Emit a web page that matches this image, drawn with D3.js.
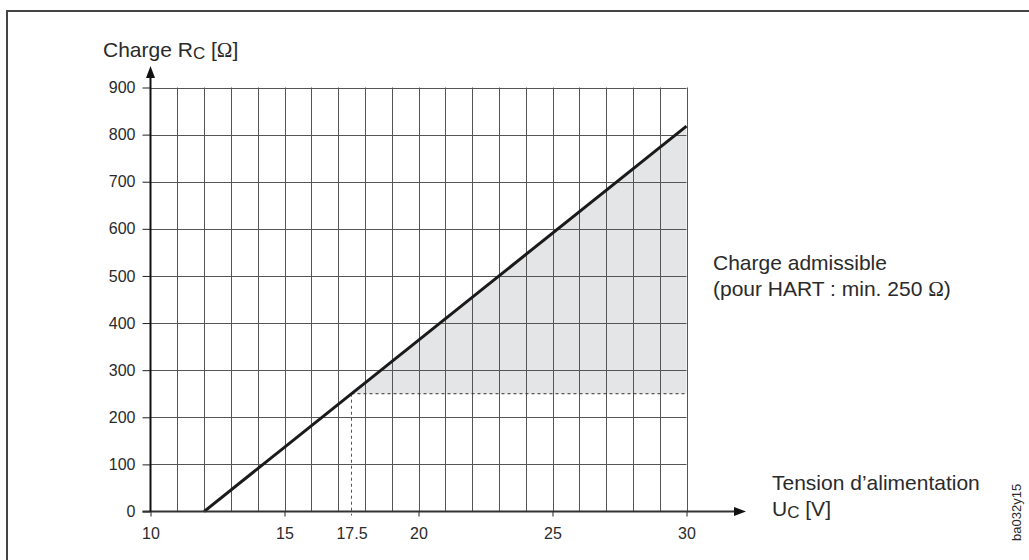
<!DOCTYPE html>
<html>
<head>
<meta charset="utf-8">
<script src="https://cdn.jsdelivr.net/npm/d3@7"></script>
<style>
  html, body { margin: 0; padding: 0; background: #fff; }
  svg { display: block; }
  text { font-family: "Liberation Sans", Arial, Helvetica, sans-serif; fill: #2a2a2a; }
  .omega { font-family: "Liberation Serif", "DejaVu Serif", serif; }
</style>
</head>
<body>
<svg id="chart" width="1029" height="560"></svg>
<script>
// ---- data ----
const xTickValues = [10, 15, 17.5, 20, 25, 30];
const xTickLabels = ["10", "15", "17.5", "20", "25", "30"];
const yTickValues = [0, 100, 200, 300, 400, 500, 600, 700, 800, 900];
const xGridValues = [10, 11, 12, 13, 14, 15, 16, 17, 18, 19, 20, 21, 22, 23, 24, 25, 26, 27, 28, 29, 30];
const loadLineU = [12, 30];        // supply voltage (V)
const loadLineR = [0, 818];        // max load (Ohm)
const hartMinLoad = 250;           // Ohm
const hartMinVoltage = 17.5;       // V
const areaU = [17.5, 30, 30];
const areaR = [250, 818, 250];

// ---- layout ----
const svg = d3.select("#chart");
const x = d3.scaleLinear().domain([10, 30]).range([150.5, 686.5]);
const y = d3.scaleLinear().domain([0, 900]).range([511.5, 87.5]);

// frame
svg.append("rect").attr("x", 7).attr("y", 11).attr("width", 1040).attr("height", 570)
  .attr("fill", "none").attr("stroke", "#444").attr("stroke-width", 2);

// shaded admissible area
svg.append("path")
  .datum(areaU.map((u, i) => [u, areaR[i]]))
  .attr("d", d3.line().x(d => x(d[0])).y(d => y(d[1])).curve(d3.curveLinearClosed))
  .attr("fill", "#e4e5e7");

// grid
const grid = svg.append("g").attr("stroke", "#555").attr("stroke-width", 1);
grid.selectAll("line.v").data(xGridValues.slice(1)).join("line")
  .attr("x1", d => Math.round(x(d)) + 0.5).attr("x2", d => Math.round(x(d)) + 0.5)
  .attr("y1", y(0)).attr("y2", y(900));
grid.selectAll("line.h").data(yTickValues.slice(1)).join("line")
  .attr("x1", x(10)).attr("x2", x(30))
  .attr("y1", d => Math.round(y(d)) + 0.5).attr("y2", d => Math.round(y(d)) + 0.5);

// dashed HART limits
svg.append("line")
  .attr("x1", x(hartMinVoltage)).attr("x2", x(30))
  .attr("y1", y(hartMinLoad)).attr("y2", y(hartMinLoad))
  .attr("stroke", "#333").attr("stroke-width", 1).attr("stroke-dasharray", "3,3");
svg.append("line")
  .attr("x1", x(hartMinVoltage)).attr("x2", x(hartMinVoltage))
  .attr("y1", y(hartMinLoad)).attr("y2", y(0) + 4)
  .attr("stroke", "#555").attr("stroke-width", 1).attr("stroke-dasharray", "3,3");

// load line
svg.append("path")
  .datum(loadLineU.map((u, i) => [u, loadLineR[i]]))
  .attr("d", d3.line().x(d => x(d[0])).y(d => y(d[1])))
  .attr("fill", "none").attr("stroke", "#1a1a1a").attr("stroke-width", 3);

// axes
const xAxis = d3.axisBottom(x)
  .tickValues(xTickValues)
  .tickFormat((d, i) => xTickLabels[i])
  .tickSize(5).tickPadding(11);
const gx = svg.append("g").attr("transform", `translate(0,${y(0)})`).call(xAxis);
gx.select(".domain").remove();
gx.selectAll(".tick line").attr("stroke", "#222").attr("stroke-width", 1)
  .filter(d => d === 17.5).remove();
gx.selectAll(".tick text").style("font-size", "16px").attr("fill", "#2a2a2a")
  .style("font-family", "'Liberation Sans', Arial, sans-serif");

const yAxis = d3.axisLeft(y).tickValues(yTickValues).tickSize(8).tickPadding(7);
const gy = svg.append("g").attr("transform", `translate(${x(10)},0)`).call(yAxis);
gy.select(".domain").remove();
gy.selectAll(".tick line").attr("stroke", "#222").attr("stroke-width", 1);
gy.selectAll(".tick text").style("font-size", "16px").attr("fill", "#2a2a2a")
  .style("font-family", "'Liberation Sans', Arial, sans-serif");

// axis lines with arrows
svg.append("line").attr("x1", x(10) - 8).attr("x2", 736).attr("y1", y(0)).attr("y2", y(0))
  .attr("stroke", "#333").attr("stroke-width", 2);
svg.append("path").attr("d", `M734,${y(0) - 4.5} L746,${y(0)} L734,${y(0) + 4.5} Z`).attr("fill", "#111");
svg.append("line").attr("x1", x(10)).attr("x2", x(10)).attr("y1", y(0)).attr("y2", 76)
  .attr("stroke", "#111").attr("stroke-width", 2);
svg.append("path").attr("d", `M${x(10) - 4.5},78 L${x(10)},66 L${x(10) + 4.5},78 Z`).attr("fill", "#111");

// labels
const yl = svg.append("text").attr("x", 103).attr("y", 57).style("font-size", "21px");
yl.append("tspan").text("Charge R");
yl.append("tspan").text("C").style("font-size", "17px").attr("dy", 2);
yl.append("tspan").text(" [").attr("dy", -2);
yl.append("tspan").attr("class", "omega").text("Ω");
yl.append("tspan").text("]");

svg.append("text").attr("x", 713).attr("y", 270).style("font-size", "21px").text("Charge admissible");
const l2 = svg.append("text").attr("x", 713).attr("y", 296).style("font-size", "21px");
l2.append("tspan").text("(pour HART : min. 250 ");
l2.append("tspan").attr("class", "omega").text("Ω");
l2.append("tspan").text(")");

svg.append("text").attr("x", 772).attr("y", 490).style("font-size", "21px").text("Tension d’alimentation");
const xl = svg.append("text").attr("x", 772).attr("y", 516).style("font-size", "21px");
xl.append("tspan").text("U");
xl.append("tspan").text("C").style("font-size", "17px").attr("dy", 2);
xl.append("tspan").text(" [V]").attr("dy", -2);

svg.append("text").attr("transform", "translate(1021,541) rotate(-90)")
  .style("font-size", "13px").text("ba032y15");
</script>
</body>
</html>
